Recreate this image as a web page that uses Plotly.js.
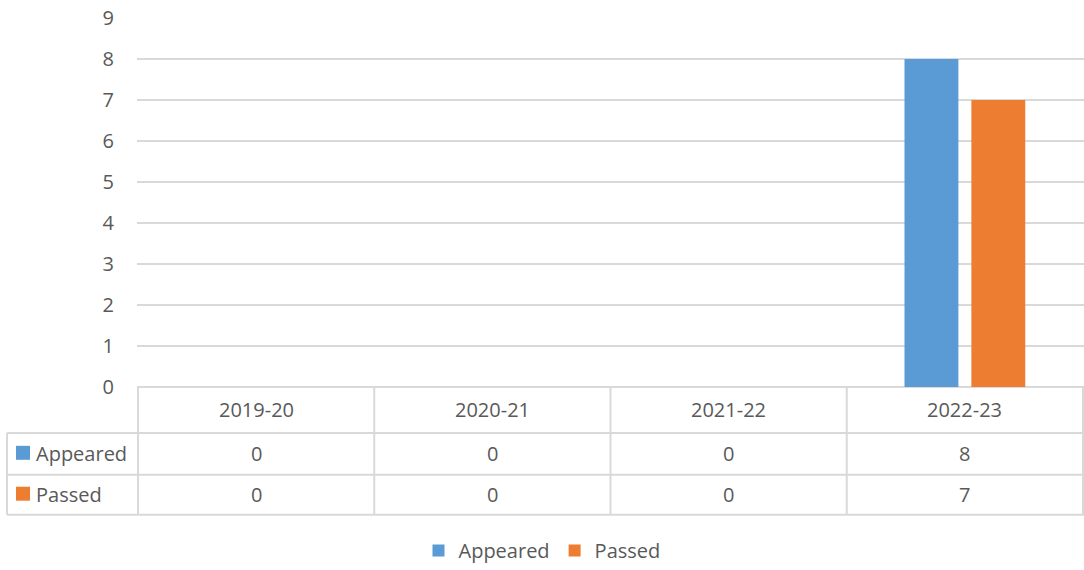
<!DOCTYPE html>
<html>
<head>
<meta charset="utf-8">
<script src="https://cdn.plot.ly/plotly-3.0.1.min.js"></script>
<style>
  html, body { margin: 0; padding: 0; background: #fff; }
  #chart { width: 1084px; height: 570px; }
</style>
</head>
<body>
<div id="chart"></div>
<script>
// chart data
const years = ['2019-20', '2020-21', '2021-22', '2022-23'];
const appeared = [0, 0, 0, 8];
const passed = [0, 0, 0, 7];
const seriesNames = ['Appeared', 'Passed'];
const seriesColors = ['#5b9bd5', '#ed7d31'];

// plot area in pixels (used to place the data table below the axis)
const W = 1084, H = 570;
const M = {l: 137, r: 0, t: 18, b: 182};
const plotW = W - M.l - M.r;
const plotH = H - M.t - M.b;
const px2paper = function(px) { return (px - M.l) / plotW; };
const py2paper = function(py) { return (H - M.b - py) / plotH; };

const gridColor = '#d9d9d9';
const textColor = '#595959';
const font = {family: '"Open Sans", "Liberation Sans", sans-serif', size: 20, color: textColor};

const traces = [
  {type: 'bar', name: seriesNames[0], x: years, y: appeared, marker: {color: seriesColors[0]}, hoverinfo: 'skip'},
  {type: 'bar', name: seriesNames[1], x: years, y: passed, marker: {color: seriesColors[1]}, hoverinfo: 'skip'}
];

// data table under the plot: row boundaries in pixels
const tableTop = H - M.b;
const rowLines = [434, 476, 516];
const tableLeft = 7;

let shapes = [];
let annotations = [];

// horizontal rules
rowLines.forEach(function(py) {
  shapes.push({type: 'line', xref: 'paper', yref: 'paper',
    x0: px2paper(tableLeft), x1: 1, y0: py2paper(py), y1: py2paper(py),
    line: {color: gridColor, width: 2}});
});
// vertical rules between categories
for (let i = 0; i <= years.length; i++) {
  shapes.push({type: 'line', xref: 'x', yref: 'paper',
    x0: i - 0.5, x1: i - 0.5, y0: 0, y1: py2paper(rowLines[rowLines.length - 1]),
    line: {color: gridColor, width: 2}});
}
// left border of the series label column
shapes.push({type: 'line', xref: 'paper', yref: 'paper',
  x0: px2paper(tableLeft), x1: px2paper(tableLeft),
  y0: py2paper(rowLines[0]), y1: py2paper(rowLines[2]),
  line: {color: gridColor, width: 2}});

// header row: category names
const headerMid = py2paper((tableTop + rowLines[0]) / 2);
years.forEach(function(yr) {
  annotations.push({xref: 'x', yref: 'paper', x: yr, y: headerMid, text: yr,
    showarrow: false, font: font, xanchor: 'center', yanchor: 'middle'});
});

// series rows
const seriesValues = [appeared, passed];
seriesValues.forEach(function(vals, r) {
  const top = rowLines[r], bottom = rowLines[r + 1];
  const mid = py2paper((top + bottom) / 2);
  // colour key
  shapes.push({type: 'rect', xref: 'paper', yref: 'paper',
    x0: px2paper(16), x1: px2paper(30),
    y0: py2paper((top + bottom) / 2 - 8), y1: py2paper((top + bottom) / 2 + 6),
    fillcolor: seriesColors[r], line: {width: 0}});
  annotations.push({xref: 'paper', yref: 'paper', x: px2paper(34), y: mid,
    text: seriesNames[r], showarrow: false, font: font, xanchor: 'left', yanchor: 'middle'});
  vals.forEach(function(v, i) {
    annotations.push({xref: 'x', yref: 'paper', x: years[i], y: mid, text: String(v),
      showarrow: false, font: font, xanchor: 'center', yanchor: 'middle'});
  });
});

const layout = {
  width: W,
  height: H,
  margin: M,
  paper_bgcolor: '#fff',
  plot_bgcolor: '#fff',
  font: font,
  barmode: 'group',
  bargap: 0.434,
  bargroupgap: 0.194,
  xaxis: {
    type: 'category',
    showticklabels: false,
    showgrid: false,
    zeroline: false,
    showline: false,
    fixedrange: true
  },
  yaxis: {
    range: [0, 9],
    dtick: 1,
    showgrid: true,
    gridcolor: gridColor,
    gridwidth: 2,
    zeroline: true,
    zerolinecolor: gridColor,
    zerolinewidth: 2,
    showline: false,
    ticks: '',
    ticklabelstandoff: 22,
    tickfont: font,
    fixedrange: true
  },
  showlegend: true,
  legend: {
    orientation: 'h',
    x: px2paper(542),
    xanchor: 'center',
    y: py2paper(552),
    yanchor: 'middle',
    font: font,
    traceorder: 'normal'
  },
  shapes: shapes,
  annotations: annotations
};

Plotly.newPlot('chart', traces, layout, {displayModeBar: false, staticPlot: true});
</script>
</body>
</html>
